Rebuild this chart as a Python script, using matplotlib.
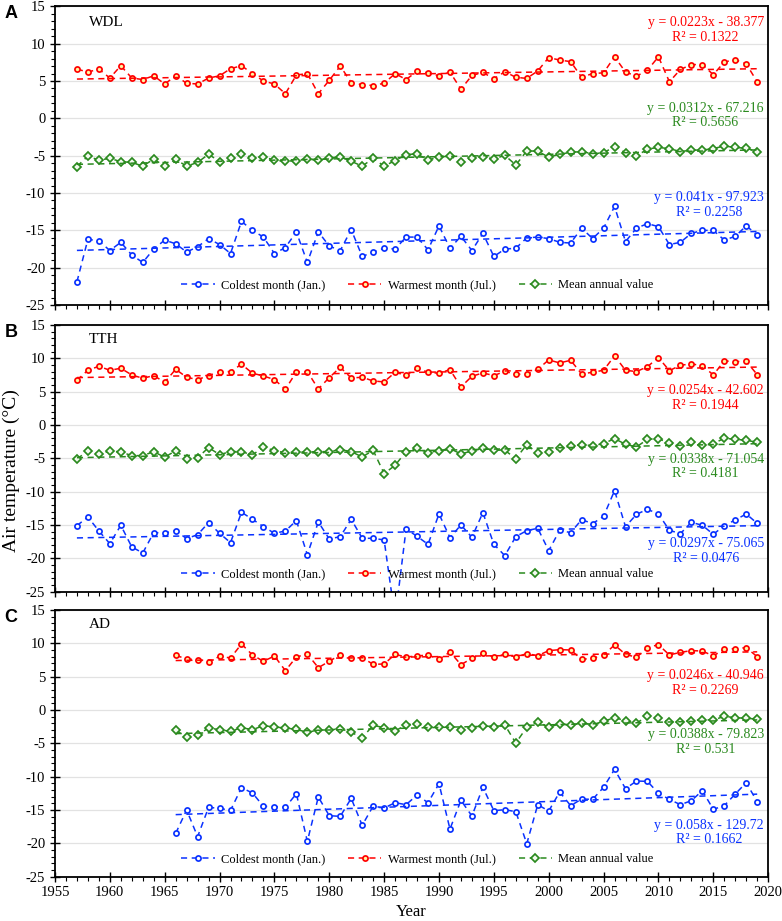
import matplotlib
matplotlib.use("Agg")
import matplotlib.pyplot as plt
import numpy as np
from matplotlib.ticker import MultipleLocator

plt.rcParams['font.family'] = ['Liberation Serif', 'DejaVu Serif']
plt.rcParams['axes.unicode_minus'] = False

# years
years_long = list(range(1957, 2020))
years_ad = list(range(1966, 2020))

# WDL
wdl_cold = [-21.9, -16.2, -16.4, -17.7, -16.6, -18.3, -19.3, -17.5, -16.3, -16.8, -17.9, -17.2, -16.1, -16.9,
            -18.1, -13.8, -15.0, -15.9, -18.1, -17.3, -15.2, -19.3, -15.2, -17.1, -17.7, -14.9, -18.5, -17.9,
            -17.4, -17.5, -15.9,
            -15.9, -17.6, -14.4, -17.4, -15.8, -17.7, -15.4, -18.5, -17.5, -17.4, -16.0, -15.9, -16.1, -16.6,
            -16.7, -14.7, -16.1, -14.7, -11.8, -16.5, -14.7, -14.1, -14.5, -16.9, -16.6, -15.4, -15.0, -15.0,
            -16.3, -15.8, -14.4, -15.6]
wdl_warm = [6.6, 6.2, 6.6, 5.4, 7.05, 5.4, 5.2, 5.7, 4.6, 5.7, 4.7, 4.6, 5.4, 5.7, 6.65, 7.05, 6.0, 5.0, 4.6,
            3.3, 5.8, 6.0, 3.3, 5.1, 7.0, 4.8, 4.5, 4.4, 4.7, 6.0, 5.2,
            6.3, 6.1, 5.7, 6.2, 3.9, 5.75, 6.15, 5.3, 6.25, 5.5, 5.35, 6.35, 8.15, 7.8, 7.6, 5.5, 6.0, 6.1,
            8.25, 6.2, 5.65, 6.45, 8.25, 4.9, 6.55, 7.2, 7.2, 5.85, 7.55, 7.85, 7.3, 4.9]
wdl_mean = [-6.45, -5.05, -5.6, -5.35, -5.8, -5.9, -6.4, -5.45, -6.4, -5.5, -6.4, -5.9, -4.8, -5.8, -5.25,
            -4.8, -5.25, -5.15, -5.6, -5.75, -5.65, -5.45, -5.6, -5.3, -5.15, -5.75, -6.4, -5.35, -6.4, -5.65,
            -4.85,
            -4.75, -5.6, -5.15, -5.0, -5.8, -5.3, -5.15, -5.45, -4.95, -6.25, -4.35, -4.4, -5.2, -4.8, -4.55,
            -4.45, -4.75, -4.6, -3.8, -4.6, -5.05, -4.1, -3.9, -4.05, -4.45, -4.25, -4.25, -4.05, -3.7, -3.9,
            -4.0, -4.45]

# TTH
tth_cold = [-15.1, -13.8, -15.9, -17.8, -15.05, -18.3, -19.2, -16.15, -16.2, -15.85, -17.05, -16.45, -14.65,
            -16.25, -17.65, -13.1, -14.15, -15.25, -16.25, -15.9, -14.35, -19.45, -14.55, -17.1, -16.75,
            -14.15, -17.0, -17.0, -17.25, -29.0, -15.6,
            -16.7, -17.9, -13.35, -16.9, -15.0, -16.85, -13.15, -17.9, -19.6, -16.75, -15.85, -15.5, -18.85,
            -15.8, -16.15, -14.2, -14.8, -13.7, -9.85, -15.25, -13.4, -12.65, -13.35, -15.8, -16.3, -14.6,
            -15.05, -16.4, -15.1, -14.25, -13.35, -14.75]
tth_warm = [6.7, 8.2, 8.8, 8.2, 8.5, 7.5, 7.0, 7.4, 6.4, 8.35, 7.15, 6.8, 7.4, 8.0, 8.0, 9.1, 7.75, 7.35, 6.8,
            5.35, 7.95, 8.0, 5.4, 7.1, 8.65, 7.05, 7.15, 6.6, 6.45, 7.9, 7.45,
            8.5, 7.9, 7.75, 8.3, 5.7, 7.3, 7.8, 7.4, 8.05, 7.6, 7.6, 8.35, 9.75, 9.3, 9.7, 7.65, 7.9, 8.2,
            10.35, 8.2, 8.0, 8.75, 10.1, 8.15, 8.95, 9.15, 8.9, 7.5, 9.6, 9.5, 9.55, 7.55]
tth_mean = [-5.1, -3.9, -4.4, -3.9, -4.05, -4.6, -4.6, -4.0, -4.85, -3.85, -5.15, -4.9, -3.4, -4.45, -4.0,
            -4.0, -4.5, -3.3, -3.85, -4.15, -4.1, -4.05, -4.0, -4.0, -3.7, -4.0, -4.8, -3.8, -7.3, -6.05, -4.0,
            -3.5, -4.15, -3.85, -3.55, -4.35, -3.9, -3.5, -3.75, -3.8, -5.05, -2.95, -4.25, -4.1, -3.5, -3.2,
            -2.95, -3.1, -2.8, -2.05, -2.9, -3.3, -2.15, -2.05, -2.75, -3.1, -2.6, -3.05, -2.8, -2.0, -2.15,
            -2.3, -2.6]

# AD
ad_cold = [-18.5, -15.0, -19.0, -14.6, -14.75, -15.05, -11.65, -12.45, -14.45, -14.5, -14.6, -12.55, -19.7,
           -13.05, -15.85, -15.95, -13.25, -17.3, -14.4, -14.7, -13.9, -14.2,
           -12.75, -13.9, -11.05, -17.85, -13.55, -15.9, -11.6, -15.1, -14.95, -15.25, -20.05, -14.2, -15.15,
           -12.3, -14.35, -13.35, -13.4, -11.6, -8.9, -11.8, -10.65, -10.7, -12.5, -13.4, -14.2, -13.6, -12.1,
           -14.9, -14.35, -12.6, -10.9, -13.75]
ad_warm = [8.2, 7.65, 7.55, 7.2, 8.05, 7.8, 9.9, 8.25, 7.3, 8.1, 5.9, 7.95, 8.4, 6.35, 7.3, 8.3, 7.8, 7.85,
           6.85, 6.9, 8.35, 7.95,
           8.1, 8.25, 7.6, 8.7, 6.8, 7.75, 8.5, 7.95, 8.35, 7.95, 8.45, 8.15, 8.9, 9.05, 9.0, 7.6, 7.75, 8.25,
           9.75, 8.35, 7.9, 9.35, 9.8, 8.25, 8.65, 8.9, 8.85, 8.1, 9.15, 9.2, 9.35, 8.0]
ad_mean = [-3.0, -4.1, -3.75, -2.7, -2.95, -3.2, -2.65, -2.95, -2.35, -2.55, -2.7, -2.9, -3.35, -3.0, -3.0,
           -2.8, -3.35, -4.15, -2.3, -2.65, -3.15, -2.2,
           -2.1, -2.55, -2.5, -2.5, -2.95, -2.65, -2.35, -2.6, -2.25, -4.95, -2.6, -1.75, -2.6, -2.05, -2.3,
           -1.9, -2.2, -1.7, -1.15, -1.6, -1.95, -0.95, -1.15, -1.85, -1.8, -1.6, -1.45, -1.5, -0.95, -1.15,
           -1.25, -1.35]

# trend equations printed on the chart: (slope, intercept, R2) for cold, warm, mean
wdl_fit = [(0.041, -97.923, 0.2258), (0.0223, -38.377, 0.1322), (0.0312, -67.216, 0.5656)]
tth_fit = [(0.0297, -75.065, 0.0476), (0.0254, -42.602, 0.1944), (0.0338, -71.054, 0.4181)]
ad_fit = [(0.058, -129.72, 0.1662), (0.0246, -40.946, 0.2269), (0.0388, -79.823, 0.531)]

series_names = ['Coldest month (Jan.)', 'Warmest month (Jul.)', 'Mean annual value']
colors = ['#0a32ff', '#ff0000', '#2a8a1e']
faces = ['white', '#fff6a0', '#f4faf0']
markers = ['o', 'o', 'D']

panels = [
    ('A', 'WDL', years_long, [wdl_cold, wdl_warm, wdl_mean], wdl_fit, [-11.6, 11.8, 0.35]),
    ('B', 'TTH', years_long, [tth_cold, tth_warm, tth_mean], tth_fit, [-18.9, 4.05, -6.2]),
    ('C', 'AD', years_ad, [ad_cold, ad_warm, ad_mean], ad_fit, [-18.4, 4.05, -4.8]),
]

# axes positions in figure fraction [left, bottom, width, height]
positions = [[0.0703, 0.6688, 0.912, 0.3243],
             [0.0703, 0.3576, 0.912, 0.2896],
             [0.0703, 0.0481, 0.912, 0.2896]]

fig = plt.figure(figsize=(7.82, 9.21), dpi=100)

for i, (letter, site, yrs, vals, fits, eq_y) in enumerate(panels):
    ax = fig.add_axes(positions[i])
    x = np.array(yrs)
    for k in range(3):
        ax.plot(x, vals[k], linestyle=(0, (4, 3)), color=colors[k], linewidth=1.1,
                marker=markers[k], markersize=3.7 if k < 2 else 3.6, markerfacecolor=faces[k],
                markeredgecolor=colors[k], markeredgewidth=1.25, label=series_names[k])
        slope, icpt, r2 = fits[k]
        ax.plot([x[0], x[-1]], [slope * x[0] + icpt, slope * x[-1] + icpt], linestyle=(0, (4, 3)),
                color=colors[k], linewidth=1.1)
        ax.text(2019.6, eq_y[k], f'y = {slope}x - {abs(icpt)}\nR\u00b2 = {r2}', color=colors[k],
                ha='right', va='center', multialignment='center', fontsize=10, linespacing=1.15)

    ax.set_xlim(1955, 2020)
    ax.set_ylim(-25, 15)
    ax.xaxis.set_major_locator(MultipleLocator(5))
    ax.xaxis.set_minor_locator(MultipleLocator(1))
    ax.yaxis.set_major_locator(MultipleLocator(5))
    ax.yaxis.set_minor_locator(MultipleLocator(1))
    ax.tick_params(which='major', direction='inout', length=7, width=1.0, labelsize=10.5)
    ax.tick_params(which='minor', direction='out', length=3, width=0.8)
    ax.grid(axis='y', which='major', color='#e2e2e2', linewidth=0.9)
    ax.set_axisbelow(True)
    for sp in ax.spines.values():
        sp.set_linewidth(1.3)
    if i < 2:
        ax.tick_params(axis='x', labelbottom=False)

    ax.text(0.048, 0.945, site, transform=ax.transAxes, fontsize=11, va='center', ha='left')
    fig.text(0.006, positions[i][1] + positions[i][3] - 0.008, letter, fontsize=13, fontweight='bold',
             family='Liberation Sans', va='center', ha='left')

    ax.legend(loc='center', bbox_to_anchor=(0.508, 0.066), ncol=3, frameon=False, fontsize=9,
              handlelength=2.65, columnspacing=1.85, handletextpad=0.5, numpoints=1)

fig.text(0.0147, 0.489, 'Air temperature (\u00b0C)', rotation=90, fontsize=14, va='center', ha='center')
fig.text(0.526, 0.01, 'Year', fontsize=12, ha='center', va='center')

fig.savefig('out.png', dpi=100)
